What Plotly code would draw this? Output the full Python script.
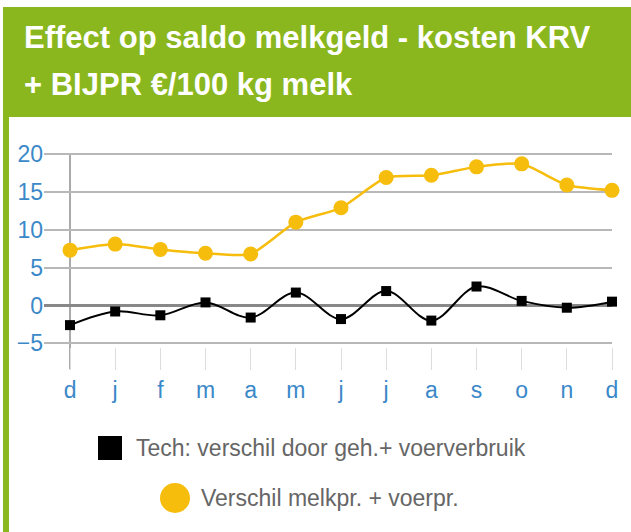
import plotly.graph_objects as go

# Months (Dec through Dec) and the two effects in €/100 kg milk
months = ["d", "j", "f", "m", "a", "m", "j", "j", "a", "s", "o", "n", "d"]
tech = [-2.6, -0.8, -1.3, 0.4, -1.6, 1.7, -1.8, 1.9, -2.0, 2.5, 0.6, -0.3, 0.5]
prijs = [7.3, 8.1, 7.4, 6.9, 6.8, 11.0, 12.9, 16.9, 17.2, 18.3, 18.7, 15.9, 15.2]
y_ticks = [-5, 0, 5, 10, 15, 20]

name_tech = "Tech: verschil door geh.+ voerverbruik"
name_prijs = "Verschil melkpr. + voerpr."

W, H = 631, 532
GREEN = "#8bb71e"
BLUE = "#3b88c9"
YELLOW = "#f6bd0c"
FONT = "Liberation Sans, Arial, sans-serif"

# vertical scale: pixels per unit between the -5 and 20 gridlines
Y_TOP_PX, Y_BOT_PX = 154.0, 343.3
PAD = 0.5
unit = (Y_BOT_PX - Y_TOP_PX) / 25.0
TICK_LEN = 26 - PAD * unit


def px(x):
    return x / W


def py(y):
    return 1 - y / H


x = list(range(len(months)))

fig = go.Figure()
fig.add_trace(go.Scatter(
    x=x, y=tech, name=name_tech, mode="lines+markers",
    line=dict(color="black", width=2, shape="spline", smoothing=1),
    marker=dict(symbol="square", size=10, color="black"),
    cliponaxis=False, showlegend=False,
))
fig.add_trace(go.Scatter(
    x=x, y=prijs, name=name_prijs, mode="lines+markers",
    line=dict(color=YELLOW, width=2.5, shape="spline", smoothing=0.6),
    marker=dict(symbol="circle", size=15, color=YELLOW),
    cliponaxis=False, showlegend=False,
))

shapes = [
    # header band and left border of the panel
    dict(type="rect", xref="paper", yref="paper", x0=px(3), x1=px(W), y0=py(117), y1=py(7),
         fillcolor=GREEN, line=dict(width=0), layer="below"),
    dict(type="rect", xref="paper", yref="paper", x0=px(3), x1=px(9), y0=py(H), y1=py(117),
         fillcolor=GREEN, line=dict(width=0), layer="below"),
    # vertical axis line at the first month, running down through its tick
    dict(type="line", xref="x", yref="paper", x0=x[0], x1=x[0],
         y0=py(Y_BOT_PX + 26), y1=py(Y_TOP_PX),
         line=dict(color="#aaaaaa", width=2), layer="below"),
    # legend swatches
    dict(type="rect", xref="paper", yref="paper", x0=px(98), x1=px(122), y0=py(460), y1=py(436),
         fillcolor="black", line=dict(width=0)),
    dict(type="circle", xref="paper", yref="paper", x0=px(160), x1=px(190), y0=py(513), y1=py(483),
         fillcolor=YELLOW, line=dict(width=0)),
]

annotations = [
    dict(text="<b>Effect op saldo melkgeld - kosten KRV</b>", xref="paper", yref="paper",
         x=px(22), y=py(38), xanchor="left", yanchor="middle", showarrow=False,
         font=dict(family=FONT, size=31, color="white")),
    dict(text="<b>+ BIJPR €/100 kg melk</b>", xref="paper", yref="paper",
         x=px(22), y=py(84), xanchor="left", yanchor="middle", showarrow=False,
         font=dict(family=FONT, size=31, color="white")),
    dict(text=name_tech, xref="paper", yref="paper",
         x=px(134), y=py(448), xanchor="left", yanchor="middle", showarrow=False,
         font=dict(family=FONT, size=23, color="#666666")),
    dict(text=name_prijs, xref="paper", yref="paper",
         x=px(199), y=py(498), xanchor="left", yanchor="middle", showarrow=False,
         font=dict(family=FONT, size=23, color="#666666")),
]

fig.update_layout(
    width=W, height=H,
    margin=dict(l=0, r=0, t=0, b=0, pad=0, autoexpand=False),
    paper_bgcolor="white", plot_bgcolor="white",
    showlegend=False,
    shapes=shapes, annotations=annotations,
    xaxis=dict(
        domain=[px(44), px(612)], range=[-0.576, 12],
        tickmode="array", tickvals=x, ticktext=months,
        showgrid=False, zeroline=False,
        ticks="outside", ticklen=TICK_LEN, tickcolor="#dddddd", tickwidth=1,
        tickfont=dict(family=FONT, size=23, color=BLUE),
        showline=False, fixedrange=True, automargin=False,
    ),
    yaxis=dict(
        domain=[py(Y_BOT_PX + PAD * unit), py(Y_TOP_PX - PAD * unit)],
        range=[-5 - PAD, 20 + PAD],
        tickmode="array", tickvals=y_ticks,
        showgrid=True, gridcolor="#b8b8b8", gridwidth=2,
        zeroline=True, zerolinecolor="#888888", zerolinewidth=3,
        ticks="", tickfont=dict(family=FONT, size=23, color=BLUE),
        showline=False, fixedrange=True, automargin=False,
    ),
)

fig.write_html("out.html")
